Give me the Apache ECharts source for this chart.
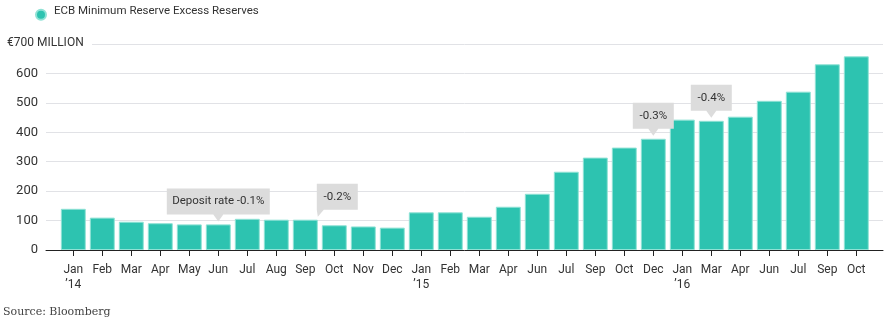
<!DOCTYPE html>
<html><head><meta charset="utf-8">
<script src="https://cdn.jsdelivr.net/npm/echarts@6/dist/echarts.min.js"></script>
<style>html,body{margin:0;padding:0;background:#fff}#c{width:889px;height:325px}</style>
</head><body><div id="c"></div>
<script>
// ---- data ----
const months = ['Jan','Feb','Mar','Apr','May','Jun','Jul','Aug','Sep','Oct','Nov','Dec',
                'Jan','Feb','Mar','Apr','Jun','Jul','Sep','Oct','Dec',
                'Jan','Mar','Apr','Jun','Jul','Sep','Oct'];
const years = ['\u201914','','','','','','','','','','','',
               '\u201915','','','','','','','','',
               '\u201916','','','','','',''];
const reserves = [140,110,96,91,87,87,106,103,103,84,80,76,
                  128,128,113,147,191,266,314,348,378,
                  443,439,453,507,538,631,658];
const yTicks = [0,100,200,300,400,500,600,700];
const calloutText = ['Deposit rate -0.1%','-0.2%','-0.3%','-0.4%'];
const calloutIndex = [5,8,20,22];
const seriesName = 'ECB Minimum Reserve Excess Reserves';
const yUnitLabel = '\u20ac700 MILLION';
const sourceText = 'Source: Bloomberg';

// ---- styling ----
const FONT = 'Roboto, "Liberation Sans", sans-serif';
const TEAL = '#2dc3b0';
const TXT = '#333333';
const BOX_H = 26, PTR_H = 7, GAP = 3;
const calloutWidth = [103, 41, 41, 41];
const calloutPointer = ['center','left','center','center'];

function calloutPath(w, kind){
  const b = BOX_H, t = BOX_H + PTR_H;
  if (kind === 'left') return `path://M0,0 L${w},0 L${w},${b} L7,${b} L1,${t} L0,${b} Z`;
  const c = w / 2;
  return `path://M0,0 L${w},0 L${w},${b} L${c+5},${b} L${c},${t} L${c-5},${b} L0,${b} Z`;
}

const markData = calloutIndex.map((idx, k) => ({
  coord: [idx, reserves[idx]],
  symbol: calloutPath(calloutWidth[k], calloutPointer[k]),
  symbolSize: [calloutWidth[k], BOX_H + PTR_H],
  symbolKeepAspect: false,
  symbolOffset: [calloutPointer[k] === 'left' ? 32 : 0, -((BOX_H + PTR_H) / 2 + GAP)],
  itemStyle: { color: '#dcdcdc' },
  label: {
    show: true, position: 'inside', formatter: calloutText[k],
    color: TXT, fontSize: 11.5, fontFamily: FONT, offset: [0, -PTR_H / 2]
  }
}));

const chart = echarts.init(document.getElementById('c'), null, { renderer: 'canvas' });
chart.setOption({
  animation: false,
  backgroundColor: '#fff',
  textStyle: { fontFamily: FONT },
  legend: {
    data: [seriesName], left: 35, top: 0.7, padding: 0, selectedMode: false,
    icon: 'path://M0,0 M13,18 M0,13 A5,5 0 1,0 10,13 A5,5 0 1,0 0,13 Z',
    itemWidth: 13, itemHeight: 18,
    textStyle: { color: TXT, fontSize: 11.5, fontFamily: FONT }
  },
  grid: [
    { left: 58.8, right: 18.2, top: 44, bottom: 75 },
    { left: 46, right: 6, top: 44, bottom: 75 }
  ],
  xAxis: [
    {
      type: 'category', gridIndex: 0, data: months.map((m, i) => String(i)),
      axisLine: { show: false },
      axisTick: { show: true, alignWithLabel: true, length: 6, lineStyle: { color: '#222' } },
      axisLabel: {
        color: TXT, fontSize: 12, fontFamily: FONT, margin: 12, lineHeight: 15, interval: 0,
        formatter: (v, i) => months[i] + (years[i] ? '\n' + years[i] : '')
      }
    },
    {
      type: 'value', gridIndex: 1, min: 0, max: 1,
      axisLine: { show: true, lineStyle: { color: '#222', width: 1 } },
      axisTick: { show: false }, axisLabel: { show: false }, splitLine: { show: false }
    }
  ],
  yAxis: [
    { type: 'value', gridIndex: 0, min: yTicks[0], max: yTicks[yTicks.length-1], interval: 100, show: false },
    {
      type: 'value', gridIndex: 1, min: yTicks[0], max: yTicks[yTicks.length-1], interval: 100,
      axisLine: { show: false }, axisTick: { show: false },
      axisLabel: { color: TXT, fontSize: 13, fontFamily: FONT, margin: 8,
        formatter: v => (v === yTicks[yTicks.length-1] ? '' : String(v)) },
      splitLine: { show: true, lineStyle: { color: '#e1e2e6', width: 1 } }
    }
  ],
  graphic: [
    { type: 'rect', z: 90, shape: { x: 40, y: 40, width: 52, height: 8 }, style: { fill: '#fff' } },
    { type: 'text', z: 100, left: 7, top: 37,
      style: { text: yUnitLabel, fill: TXT, font: '12px ' + FONT } },
    { type: 'text', z: 100, left: 3, top: 307,
      style: { text: sourceText, fill: '#444', font: '11px "DejaVu Serif", serif' } }
  ],
  series: [
    {
      name: seriesName, type: 'bar', xAxisIndex: 0, yAxisIndex: 0, data: reserves,
      barCategoryGap: '14%',
      itemStyle: { color: TEAL, borderColor: '#8fe2d5', borderWidth: 1 },
      emphasis: { disabled: true },
      markPoint: { silent: true, animation: false, data: markData }
    }
  ]
});
</script>
</body></html>
